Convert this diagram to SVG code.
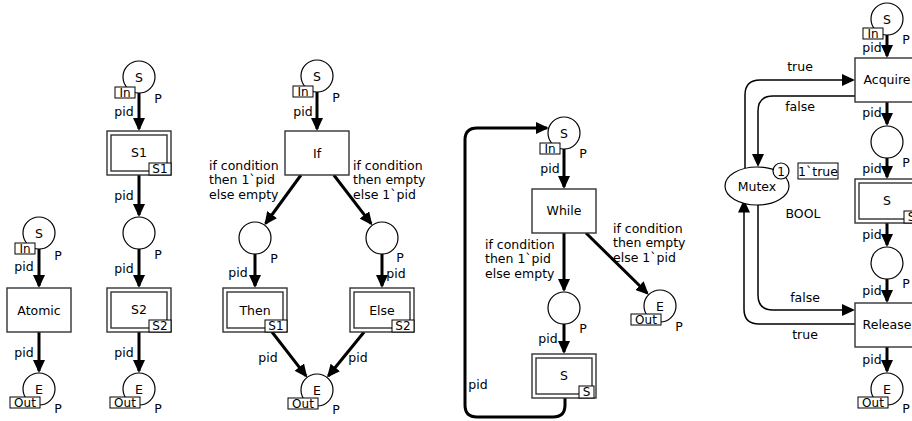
<svg xmlns="http://www.w3.org/2000/svg" width="912" height="421" viewBox="0 0 912 421">
<defs>
<style>
text{font-family:"DejaVu Sans",Verdana,sans-serif;font-size:12.5px;fill:#000}
.m{text-anchor:middle}
.t{font-size:12px;text-anchor:middle}
.pl{fill:#fff;stroke:#000;stroke-width:1.2}
.tr{fill:#fff;stroke:#333;stroke-width:1.4}
.tg{fill:#fff;stroke:#000;stroke-width:1}
.arc{fill:none;stroke:#000;stroke-width:3;marker-end:url(#ah)}
.thin{fill:none;stroke:#000;stroke-width:1.5;marker-end:url(#ah)}
</style>
<marker id="ah" markerUnits="userSpaceOnUse" markerWidth="14" markerHeight="12" refX="11" refY="6" orient="auto" viewBox="0 0 14 12"><path d="M0,0 L13,6 L0,12 z" fill="#000"/></marker>
</defs>
<rect width="912" height="421" fill="#fff"/>

<g id="connectors">
<path class="arc" d="M39 249 L39 286"/>
<path class="arc" d="M39 332 L39 371"/>
<path class="arc" d="M139 93 L139 129"/>
<path class="arc" d="M139 175 L139 215"/>
<path class="arc" d="M139 249 L139 286"/>
<path class="arc" d="M139 332 L139 371"/>
<path class="arc" d="M317 92 L317 129"/>
<path class="arc" d="M301 175 L265.6 223.5"/>
<path class="arc" d="M333.8 175 L371.1 223.7"/>
<path class="arc" d="M255 254 L255 286"/>
<path class="arc" d="M382 254 L382 286"/>
<path class="arc" d="M272 332 L306 375.8"/>
<path class="arc" d="M364.1 332 L328.3 376"/>
<path class="arc" d="M564 149 L564 187"/>
<path class="arc" d="M564 233 L564 290"/>
<path class="arc" d="M564 324 L564 352"/>
<path class="arc" d="M586 233 L647.3 293.3"/>
<path class="arc" d="M565 398 L565 405 Q565 417 553 417 L477 417 Q465 417 465 405 L465 140 Q465 128 477 128 L546.8 128"/>
<path class="arc" d="M887 35 L887 56"/>
<path class="arc" d="M887 102 L887 124"/>
<path class="arc" d="M887 158 L887 177"/>
<path class="arc" d="M887 223 L887 245"/>
<path class="arc" d="M887 279 L887 301"/>
<path class="arc" d="M887 347 L887 371"/>
<path class="thin" d="M745 168.4 L745 95 Q745 80 760 80 L853 80"/>
<path class="thin" d="M855 96 L773 96 Q758 96 758 111 L758 165"/>
<path class="thin" d="M758 205 L758 295 Q758 310 773 310 L853 310"/>
<path class="thin" d="M855 324 L759 324 Q744 324 744 309 L744 201.5"/>
<text class="m" x="24" y="271">pid</text>
<text class="m" x="24" y="357">pid</text>
<text class="m" x="124" y="116">pid</text>
<text class="m" x="124" y="200">pid</text>
<text class="m" x="124" y="273">pid</text>
<text class="m" x="124" y="357">pid</text>
<text class="m" x="303" y="116">pid</text>
<text x="209" y="169.5">if condition</text>
<text x="209" y="184">then 1`pid</text>
<text x="209" y="198.5">else empty</text>
<text x="353" y="169.5">if condition</text>
<text x="353" y="184">then empty</text>
<text x="353" y="198.5">else 1`pid</text>
<text class="m" x="238" y="277">pid</text>
<text class="m" x="396" y="278">pid</text>
<text class="m" x="268" y="362">pid</text>
<text class="m" x="358" y="362">pid</text>
<text class="m" x="550" y="173">pid</text>
<text x="485" y="248.5">if condition</text>
<text x="485" y="263">then 1`pid</text>
<text x="485" y="277.5">else empty</text>
<text x="613" y="232.5">if condition</text>
<text x="613" y="247">then empty</text>
<text x="613" y="261.5">else 1`pid</text>
<text class="m" x="548" y="343">pid</text>
<text class="m" x="478" y="389">pid</text>
<text class="m" x="872" y="52">pid</text>
<text class="m" x="872" y="117">pid</text>
<text class="m" x="872" y="173">pid</text>
<text class="m" x="872" y="239">pid</text>
<text class="m" x="872" y="295">pid</text>
<text class="m" x="872" y="364">pid</text>
<text class="m" x="800" y="71">true</text>
<text class="m" x="800" y="111">false</text>
<text class="m" x="805" y="302">false</text>
<text class="m" x="805" y="339">true</text>
</g>

<g id="atomic-S"><circle class="pl" cx="39" cy="233" r="16"/><text class="m" x="39" y="237.5">S</text><rect class="tg" x="15" y="243" width="20" height="11"/><text class="t" x="25" y="252.5">In</text><text class="m" x="58" y="259.5">P</text></g>
<g id="atomic-T"><rect class="tr" x="7" y="288" width="64" height="44"/><text class="m" x="39" y="314.5">Atomic</text></g>
<g id="atomic-E"><circle class="pl" cx="39" cy="389" r="16"/><text class="m" x="39" y="393.5">E</text><rect class="tg" x="10" y="397" width="30" height="11"/><text class="t" x="25" y="406.5">Out</text><text class="m" x="58" y="413">P</text></g>

<g id="seq-S"><circle class="pl" cx="139" cy="77" r="16"/><text class="m" x="139" y="81.5">S</text><rect class="tg" x="115" y="87" width="20" height="11"/><text class="t" x="125" y="96.5">In</text><text class="m" x="158" y="103">P</text></g>
<g id="seq-S1"><rect class="tr" x="107" y="131" width="64" height="44"/><rect class="tr" x="111" y="135" width="56" height="36"/><text class="m" x="139" y="157">S1</text><rect class="tg" x="149" y="163" width="22" height="12"/><text class="t" x="160" y="173">S1</text></g>
<g id="seq-M"><circle class="pl" cx="139" cy="233" r="16"/><text class="m" x="158" y="259">P</text></g>
<g id="seq-S2"><rect class="tr" x="107" y="288" width="64" height="44"/><rect class="tr" x="111" y="292" width="56" height="36"/><text class="m" x="139" y="314">S2</text><rect class="tg" x="149" y="320" width="22" height="12"/><text class="t" x="160" y="330">S2</text></g>
<g id="seq-E"><circle class="pl" cx="139" cy="389" r="16"/><text class="m" x="139" y="393.5">E</text><rect class="tg" x="110" y="397" width="30" height="11"/><text class="t" x="125" y="406.5">Out</text><text class="m" x="158" y="413">P</text></g>

<g id="if-S"><circle class="pl" cx="317" cy="76" r="16"/><text class="m" x="317" y="80.5">S</text><rect class="tg" x="293" y="86" width="20" height="11"/><text class="t" x="303" y="95.5">In</text><text class="m" x="336" y="102">P</text></g>
<g id="if-T"><rect class="tr" x="285" y="131" width="64" height="44"/><text class="m" x="317" y="157.5">If</text></g>
<g id="if-L"><circle class="pl" cx="255" cy="238" r="16"/><text class="m" x="274" y="263">P</text></g>
<g id="if-R"><circle class="pl" cx="382" cy="238" r="16"/><text class="m" x="400" y="262">P</text></g>
<g id="if-Then"><rect class="tr" x="223" y="288" width="64" height="44"/><rect class="tr" x="227" y="292" width="56" height="36"/><text class="m" x="255" y="315">Then</text><rect class="tg" x="265" y="320" width="22" height="12"/><text class="t" x="276" y="330">S1</text></g>
<g id="if-Else"><rect class="tr" x="350" y="288" width="64" height="44"/><rect class="tr" x="354" y="292" width="56" height="36"/><text class="m" x="382" y="315">Else</text><rect class="tg" x="392" y="320" width="22" height="12"/><text class="t" x="403" y="330">S2</text></g>
<g id="if-E"><circle class="pl" cx="317" cy="390" r="16"/><text class="m" x="317" y="394.5">E</text><rect class="tg" x="288" y="398" width="30" height="11"/><text class="t" x="303" y="407.5">Out</text><text class="m" x="336" y="414">P</text></g>

<g id="while-S"><circle class="pl" cx="564" cy="133" r="16"/><text class="m" x="564" y="137.5">S</text><rect class="tg" x="540" y="143" width="20" height="11"/><text class="t" x="550" y="152.5">In</text><text class="m" x="583" y="158">P</text></g>
<g id="while-T"><rect class="tr" x="532" y="189" width="64" height="44"/><text class="m" x="564" y="215">While</text></g>
<g id="while-M"><circle class="pl" cx="564" cy="308" r="16"/><text class="m" x="583" y="333">P</text></g>
<g id="while-Sub"><rect class="tr" x="532" y="354" width="64" height="44"/><rect class="tr" x="536" y="358" width="56" height="36"/><text class="m" x="564" y="380">S</text><rect class="tg" x="579" y="386" width="15" height="12"/><text class="t" x="586.5" y="396">S</text></g>
<g id="while-E"><circle class="pl" cx="660" cy="306" r="16"/><text class="m" x="660" y="310.5">E</text><rect class="tg" x="631" y="314" width="30" height="11"/><text class="t" x="646" y="323.5">Out</text><text class="m" x="679" y="331">P</text></g>

<g id="mx-S"><circle class="pl" cx="887" cy="19" r="16"/><text class="m" x="887" y="23.5">S</text><rect class="tg" x="863" y="28" width="20" height="11"/><text class="t" x="873" y="37.5">In</text><text class="m" x="906" y="44">P</text></g>
<g id="mx-Acquire"><rect class="tr" x="855" y="58" width="64" height="44"/><text class="m" x="887" y="84">Acquire</text></g>
<g id="mx-M1"><circle class="pl" cx="887" cy="142" r="16"/><text class="m" x="906" y="167">P</text></g>
<g id="mx-Sub"><rect class="tr" x="855" y="179" width="64" height="44"/><rect class="tr" x="859" y="183" width="56" height="36"/><text class="m" x="887" y="205">S</text><rect class="tg" x="904" y="211" width="15" height="12"/><text class="t" x="911.5" y="221">S</text></g>
<g id="mx-M2"><circle class="pl" cx="887" cy="263" r="16"/><text class="m" x="906" y="288">P</text></g>
<g id="mx-Release"><rect class="tr" x="855" y="303" width="64" height="44"/><text class="m" x="887" y="329">Release</text></g>
<g id="mx-E"><circle class="pl" cx="887" cy="389" r="16"/><text class="m" x="887" y="393.5">E</text><rect class="tg" x="858" y="397" width="30" height="11"/><text class="t" x="873" y="406.5">Out</text><text class="m" x="906" y="413">P</text></g>
<g id="mutex"><ellipse class="pl" cx="757" cy="186" rx="32" ry="19"/><text class="m" x="757" y="190.5">Mutex</text><circle class="pl" cx="781" cy="171" r="8"/><text class="t" x="781" y="175.5">1</text><rect class="tg" x="798" y="163" width="40" height="16"/><text class="m" x="818" y="175.5">1`true</text><text class="m" x="803" y="218">BOOL</text></g>
</svg>
